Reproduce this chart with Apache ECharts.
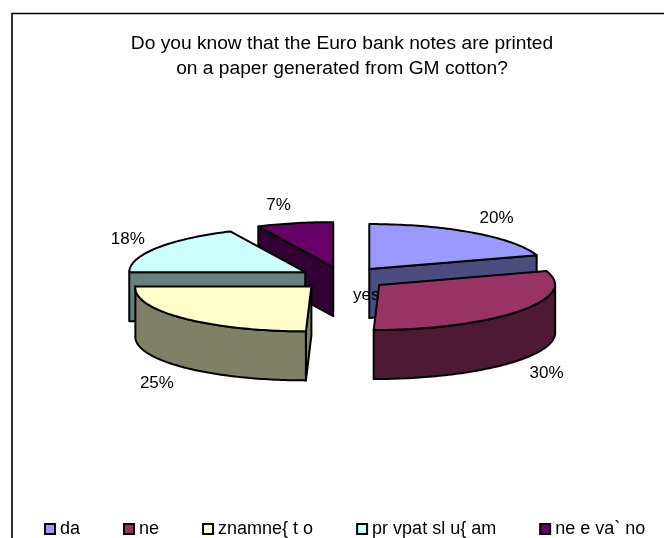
<!DOCTYPE html>
<html>
<head>
<meta charset="utf-8">
<style>html,body{margin:0;padding:0;background:#fff}#chart{width:664px;height:538px}</style>
<script src="https://cdn.jsdelivr.net/npm/echarts@6/dist/echarts.min.js"></script>
</head>
<body>
<div id="chart"></div>
<script>
// Survey answers, one share per slice, clockwise from twelve o'clock
const categories = ['da', 'ne', 'znamne{ t o', 'pr vpat sl u{ am', 'ne e va` no'];
const shares = [20, 30, 25, 18, 7];
const topColors = ['#9999FF', '#993366', '#FFFFCC', '#CCFFFF', '#660066'];
const sideColors = ['#4C4C80', '#4D1933', '#808066', '#668080', '#330033'];
const titleLines = ['Do you know that the Euro bank notes are printed', 'on a paper generated from GM cotton?'];

// Projection of the tilted pie
const CX = 343, CY = 278.3;
const RX = 176, RY = 45, DEPTH = 49;
const EXPLODE = 44.7;
const LEAN = 5.5;
const FONT = '"Liberation Sans", Arial, sans-serif';
const LEGEND_TEXT_WIDTHS = [19, 18, 96, 127, 93];

const total = shares.reduce((a, b) => a + b, 0);
const slices = [];
shares.reduce((start, v, i) => {
  const end = start + v / total * Math.PI * 2;
  slices.push({ start, end, mid: (start + end) / 2, index: i });
  return end;
}, 0);

function rimOffset(t, rx, ry) {
  const c = Math.cos(t);
  return [(rx || RX) * Math.sin(t) + LEAN * Math.min(0, c), -(ry || RY) * c];
}

function arcPoints(ax, ay, from, to, drop) {
  const pts = [];
  const n = Math.max(2, Math.ceil((to - from) / 0.02));
  for (let k = 0; k <= n; k++) {
    const p = rimOffset(from + (to - from) * k / n);
    pts.push([ax + p[0], ay + p[1] + drop]);
  }
  return pts;
}

// A cut face shows only when the slice body lies above its edge on screen
function cutFaceVisible(edge, mid) {
  const p = rimOffset(edge), q = rimOffset(mid);
  const downCross = p[0];
  const bodyCross = p[0] * q[1] - p[1] * q[0];
  return Math.abs(downCross) > 1e-6 && downCross * bodyCross < 0;
}

function polygon(points, fill) {
  return {
    type: 'polygon',
    shape: { points },
    style: { fill, stroke: '#000', lineWidth: 2, lineJoin: 'round' }
  };
}

function drawSlice(s) {
  const i = s.index;
  const ax = CX + EXPLODE * Math.sin(s.mid);
  const ay = CY - EXPLODE * (RY / RX) * Math.cos(s.mid);
  const side = sideColors[i];
  const children = [];

  [s.start, s.end].forEach(edge => {
    if (cutFaceVisible(edge, s.mid)) {
      const p = rimOffset(edge);
      children.push(polygon([
        [ax, ay], [ax + p[0], ay + p[1]],
        [ax + p[0], ay + p[1] + DEPTH], [ax, ay + DEPTH]
      ], side));
    }
  });

  // Outer wall, only along the front half of the rim
  const wallFrom = Math.max(s.start, Math.PI / 2);
  const wallTo = Math.min(s.end, Math.PI * 1.5);
  if (wallTo > wallFrom) {
    children.push(polygon(
      arcPoints(ax, ay, wallFrom, wallTo, 0)
        .concat(arcPoints(ax, ay, wallFrom, wallTo, DEPTH).reverse()),
      side
    ));
  }

  children.push(polygon([[ax, ay]].concat(arcPoints(ax, ay, s.start, s.end, 0)), topColors[i]));

  // Percentage sits just outside the rim, below the wall on the front half
  const lp = rimOffset(s.mid, RX + 20, RY + 20);
  children.push({
    type: 'text',
    z2: 10,
    style: {
      x: ax + lp[0] + 12 * Math.sign(Math.sin(s.mid)),
      y: ay + lp[1] + 1.5 + (Math.cos(s.mid) < 0 ? DEPTH : 0),
      text: shares[i] + '%',
      fill: '#000',
      font: '17px ' + FONT,
      align: 'center',
      verticalAlign: 'middle'
    }
  });
  return { type: 'group', children };
}

// Paint back to front
const paintOrder = slices.slice().sort((a, b) => Math.cos(b.mid) - Math.cos(a.mid));

const legendRich = {};
LEGEND_TEXT_WIDTHS.forEach((w, i) => {
  legendRich['w' + i] = { width: w, fontFamily: FONT, fontSize: 18, color: '#000', align: 'left' };
});

const chart = echarts.init(document.getElementById('chart'), null, { renderer: 'canvas' });
chart.setOption({
  animation: false,
  backgroundColor: '#fff',
  title: {
    text: titleLines.join('\n'),
    left: 337,
    top: 26,
    textAlign: 'center',
    textStyle: { fontFamily: FONT, fontSize: 19.2, fontWeight: 'normal', color: '#000', lineHeight: 25 }
  },
  legend: {
    left: 39,
    top: 515,
    padding: 5,
    itemWidth: 10,
    itemHeight: 10,
    itemGap: 43,
    icon: 'rect',
    data: categories,
    itemStyle: { borderColor: '#000', borderWidth: 2 },
    formatter: name => `{w${categories.indexOf(name)}|${name}}`,
    textStyle: { rich: legendRich }
  },
  graphic: [
    {
      type: 'rect',
      silent: true,
      z: -10,
      shape: { x: 12, y: 13.5, width: 700, height: 600 },
      style: { fill: 'none', stroke: '#000', lineWidth: 1.6 }
    },
    {
      type: 'text',
      z: 100,
      style: { x: 353, y: 287, text: 'yes', fill: '#000', font: '17px ' + FONT }
    }
  ],
  series: paintOrder.map(s => ({
    type: 'custom',
    name: categories[s.index],
    coordinateSystem: 'none',
    silent: true,
    itemStyle: { color: topColors[s.index] },
    data: [shares[s.index]],
    renderItem: () => drawSlice(s)
  }))
});
</script>
</body>
</html>
